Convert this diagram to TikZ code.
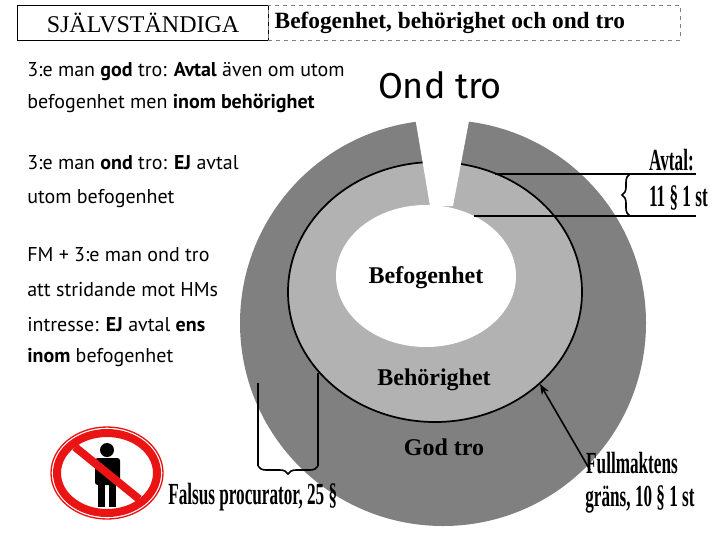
\documentclass[tikz,border=0pt]{standalone}
\usepackage{fontspec}
\setmainfont{Liberation Serif}
\newfontfamily\lsans{PT Sans}
\newfontfamily\hand{Fira Sans}
\usetikzlibrary{decorations.pathreplacing,arrows.meta}
\definecolor{dark}{gray}{0.5}
\definecolor{light}{gray}{0.7}
\definecolor{sred}{RGB}{235,20,20}
\tikzset{
 lefttxt/.style={anchor=west,font=\lsans\fontsize{15}{15}\selectfont,inner sep=0},
 ringlbl/.style={font=\bfseries\fontsize{18}{18}\selectfont},
 narrow/.style={font=\bfseries\fontsize{23}{23}\selectfont,inner sep=0}
}
\newcommand{\nw}[1]{\scalebox{0.56}[1]{#1}}
\begin{document}
\begin{tikzpicture}[x=0.75pt,y=-0.75pt]
\useasboundingbox (0,0) rectangle (720,540);
% rings
\fill[dark] (443,323) circle (203);
\fill[light] (435,292) ellipse [x radius=147,y radius=130];
\draw[line width=1.3pt] (435,292) ellipse [x radius=147,y radius=130];
\fill[white] (426,276) ellipse [x radius=90,y radius=71];
\fill[white] (413,105) -- (472,105) -- (453,206) -- (430,206) -- cycle;
\node[ringlbl] (bef) at (426,278) {Befogenhet};
\node[ringlbl] (beh) at (434,380) {Behörighet};
\node[ringlbl] (god) at (444,447) {God tro};
% header
\node[draw,thick,minimum width=251*0.75pt,minimum height=35*0.75pt,anchor=north west,font=\fontsize{18}{18}\selectfont] (h1) at (17,5) {SJÄLVSTÄNDIGA};
\node[draw,dashed,gray,minimum width=412*0.75pt,minimum height=35*0.75pt,anchor=north west] (h2) at (268,5) {};
\node[anchor=west,font=\bfseries\fontsize{17.5}{17.5}\selectfont] (h2t) at (270,23) {Befogenhet, behörighet och ond tro};
% left texts
\node[lefttxt] (t1) at (27,72) {3:e man \textbf{god} tro: \textbf{Avtal} även om utom};
\node[lefttxt] (t2) at (27,103) {befogenhet men \textbf{inom behörighet}};
\node[lefttxt] (t3) at (27,163) {3:e man \textbf{ond} tro: \textbf{EJ} avtal};
\node[lefttxt] (t4) at (27,199) {utom befogenhet};
\node[lefttxt] (t5) at (27,255) {FM + 3:e man ond tro};
\node[lefttxt] (t6) at (27,290) {att stridande mot HMs};
\node[lefttxt] (t7) at (27,325) {intresse: \textbf{EJ} avtal \textbf{ens}};
\node[lefttxt] (t8) at (27,357) {\textbf{inom} befogenhet};
% ond tro
\node[font=\hand\fontsize{27}{27}\selectfont] (ond) at (440,85) {Ond tro};
% Avtal brace
\coordinate (a1) at (495,174); \coordinate (a2) at (696,174);
\coordinate (b1) at (474,216); \coordinate (b2) at (696,216);
\draw[line width=1.2pt] (a1) -- (a2);
\draw[line width=1.2pt] (b1) -- (b2);
\draw[line width=1.2pt,decorate,decoration={brace,amplitude=6pt}] (630,216) -- (630,174);
\node[narrow,anchor=east] (av) at (694,160) {\nw{Avtal:}};
\node[narrow,anchor=east] (av2) at (708,198) {\nw{11 § 1 st}};
% falsus brace
\coordinate (f1) at (258,383); \coordinate (f2) at (318,373);
\draw[line width=1.2pt] (f1) -- (258,466);
\draw[line width=1.2pt] (f2) -- (318,466);
\draw[line width=1.2pt,decorate,decoration={brace,amplitude=6pt}] (318,466) -- (258,466);
\node[narrow,anchor=west] (fp) at (168,497) {\nw{Falsus procurator, 25 §}};
% fullmakt
\node[narrow] (fm1) at (632,463) {\nw{Fullmaktens}};
\node[narrow] (fm2) at (640,499) {\nw{gräns, 10 § 1 st}};
\coordinate (fa) at (590,470);
\coordinate (fb) at (540,384);
\draw[line width=1.2pt,-{Stealth[length=8pt]}] (fa) -- (fb);
% sign
\fill[white] (107,473) ellipse [x radius=57,y radius=47];
\draw[sred,line width=1pt] (107,473) ellipse [x radius=56,y radius=46];
\draw[sred,line width=6pt] (107,473) ellipse [x radius=50,y radius=40];
\fill[black] (107,450) circle (7);
\fill[black,rounded corners=2pt] (95,458) rectangle (120,485);
\fill[black] (98,480) rectangle (105,507);
\fill[black] (109,480) rectangle (116,507);
\draw[sred,line width=6pt] (75,447) -- (139,499);
\end{tikzpicture}
\end{document}
